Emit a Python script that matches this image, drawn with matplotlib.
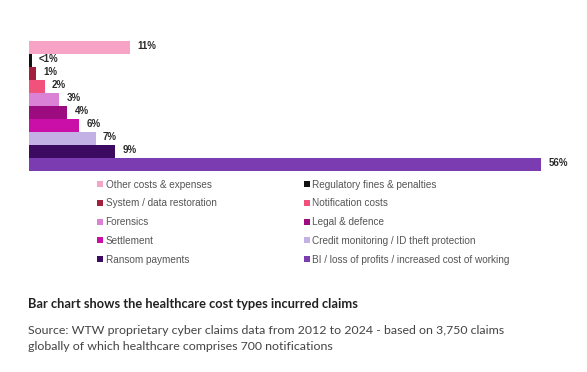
import matplotlib.pyplot as plt
from matplotlib.patches import Patch

# cost types, top to bottom as drawn
categories = [
    "Other costs & expenses",
    "Regulatory fines & penalties",
    "System / data restoration",
    "Notification costs",
    "Forensics",
    "Legal & defence",
    "Settlement",
    "Credit monitoring / ID theft protection",
    "Ransom payments",
    "BI / loss of profits / increased cost of working",
]
values = [11, 0.3, 0.8, 1.7, 3.3, 4.2, 5.5, 7.3, 9.4, 56]
value_labels = ["11%", "<1%", "1%", "2%", "3%", "4%", "6%", "7%", "9%", "56%"]
colors = [
    "#f7a3c6", "#111111", "#a3203c", "#f0527c", "#d982d6",
    "#9c0c80", "#c90fa8", "#c3b1e6", "#3d0a62", "#7b3bb1",
]

plt.rcParams["font.family"] = ["Liberation Sans", "DejaVu Sans"]

fig = plt.figure(figsize=(5.87, 3.72), dpi=100)
ax = fig.add_axes([29 / 587, 1 - 171 / 372, (541 - 29) / 587, 130 / 372])

y = list(range(len(values)))
ax.barh(y, values, height=0.97, color=colors)
ax.set_ylim(len(values) - 0.5, -0.5)
ax.set_xlim(0, 56)
ax.axis("off")

for yi, v, lab in zip(y, values, value_labels):
    ax.text(v + 0.8, yi - 0.15, lab, va="center", ha="left", fontsize=7,
            fontweight="bold", color="#2a2a2a", clip_on=False)

handles = [Patch(facecolor=c, edgecolor="none") for c in colors]
left = [0, 2, 4, 6, 8]
right = [1, 3, 5, 7, 9]

leg_kw = dict(loc="upper left", frameon=False, fontsize=7.2, handlelength=0.55,
              handleheight=0.55, handletextpad=0.3, labelspacing=0.88,
              borderaxespad=0, borderpad=0, labelcolor="#555555")
leg1 = fig.legend([handles[i] for i in left], [categories[i] for i in left],
                  bbox_to_anchor=(97 / 587, 1 - 179.5 / 372), **leg_kw)
leg2 = fig.legend([handles[i] for i in right], [categories[i] for i in right],
                  bbox_to_anchor=(304 / 587, 1 - 179.5 / 372), **leg_kw)

fig.text(28 / 587, 1 - 304 / 372, "Bar chart shows the healthcare cost types incurred claims",
         fontsize=9.25, fontweight="bold", color="#222222", va="center", family="Lato")
fig.text(28 / 587, 1 - 330 / 372,
         "Source: WTW proprietary cyber claims data from 2012 to 2024 - based on 3,750 claims",
         fontsize=8.9, color="#444444", va="center", family="Lato")
fig.text(28 / 587, 1 - 347 / 372, "globally of which healthcare comprises 700 notifications",
         fontsize=8.9, color="#444444", va="center", family="Lato")

fig.savefig("out.png", dpi=100, facecolor="white")
plt.close(fig)
